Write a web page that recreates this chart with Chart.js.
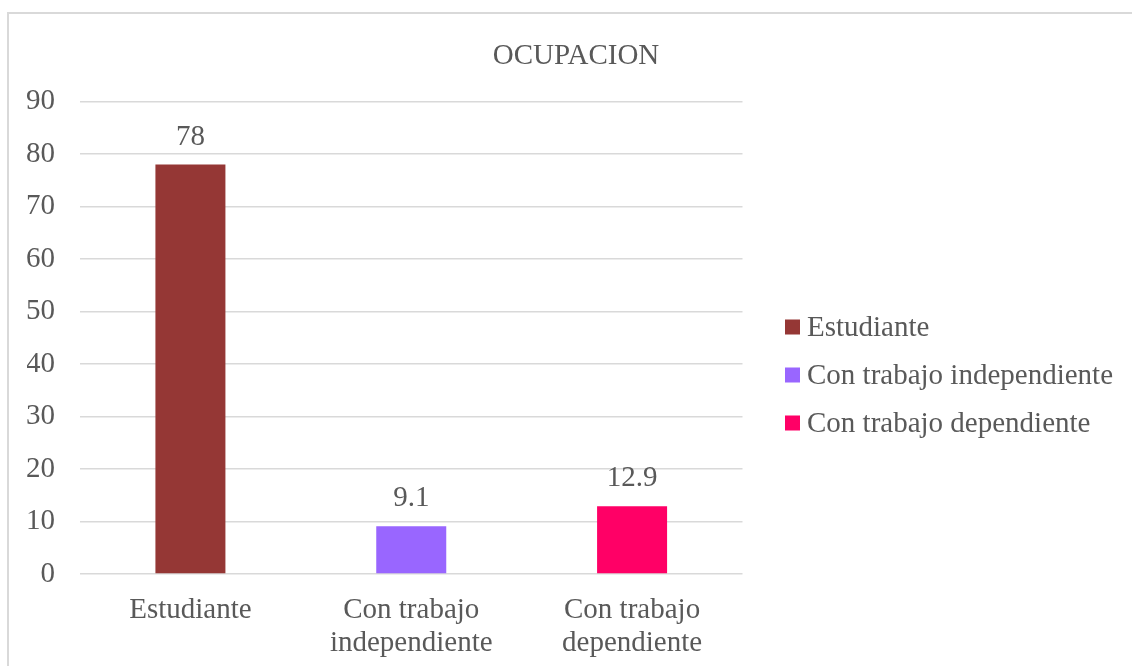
<!DOCTYPE html>
<html>
<head>
<meta charset="utf-8">
<script src="https://cdn.jsdelivr.net/npm/chart.js@4.4.0/dist/chart.umd.min.js"></script>
<style>
  html, body { margin: 0; padding: 0; background: #fff; overflow: hidden; width: 1132px; height: 666px; }
  #frame { position: absolute; left: 7px; top: 12px; width: 1300px; height: 800px; border: 2px solid #d9d9d9; box-sizing: border-box; }
  #wrap { position: absolute; left: 10px; top: 14px; width: 1132px; height: 680px; }
</style>
</head>
<body>
<div id="frame"></div>
<div id="wrap"><canvas id="c" width="1132" height="680"></canvas></div>
<script>
const titleText = "OCUPACION";
const categories = [["Estudiante"], ["Con trabajo", "independiente"], ["Con trabajo", "dependiente"]];
const legendLabels = ["Estudiante", "Con trabajo independiente", "Con trabajo dependiente"];
const values = [78, 9.1, 12.9];
const valueLabels = ["78", "9.1", "12.9"];
const barColors = ["#953735", "#9966ff", "#ff0066"];
const yTicks = [0, 10, 20, 30, 40, 50, 60, 70, 80, 90];

const FONT = "'Liberation Serif', 'Times New Roman', serif";
const TXT = "#595959";
const FS = 29;

const fixTitle = {
  id: 'fixTitle',
  afterLayout(chart) {
    if (chart.titleBlock) {
      chart.titleBlock.left = 0;
      chart.titleBlock.right = chart.width;
      chart.titleBlock.width = chart.width;
    }
  }
};

const valueLabelPlugin = {
  id: 'valueLabels',
  afterDatasetsDraw(chart) {
    const ctx = chart.ctx;
    const meta = chart.getDatasetMeta(0);
    ctx.save();
    ctx.font = FS + "px " + FONT;
    ctx.fillStyle = TXT;
    ctx.textAlign = 'center';
    ctx.textBaseline = 'middle';
    meta.data.forEach((el, i) => {
      ctx.fillText(valueLabels[i], el.x, el.y - 27.5);
    });
    ctx.restore();
  }
};

const legendPlugin = {
  id: 'customLegend',
  afterDraw(chart) {
    const ctx = chart.ctx;
    const area = chart.chartArea;
    const x0 = area.right + 42.5;
    const midY = (area.top + area.bottom) / 2 + 37.25;
    const gap = 48;
    ctx.save();
    ctx.font = FS + "px " + FONT;
    ctx.textBaseline = 'middle';
    ctx.textAlign = 'left';
    legendLabels.forEach((lab, i) => {
      const cy = midY + (i - 1) * gap;
      ctx.fillStyle = barColors[i];
      ctx.fillRect(x0, cy - 7.5, 15, 15);
      ctx.fillStyle = TXT;
      ctx.fillText(lab, x0 + 22, cy + 1);
    });
    ctx.restore();
  }
};

new Chart(document.getElementById('c'), {
  type: 'bar',
  data: {
    labels: categories,
    datasets: [{
      label: titleText,
      data: values,
      backgroundColor: barColors,
      borderWidth: 0,
      categoryPercentage: 1,
      barPercentage: 0.317
    }]
  },
  options: {
    responsive: false,
    animation: false,
    devicePixelRatio: 1,
    layout: { padding: { left: 17, right: 399.5, top: 0, bottom: 34.5 } },
    plugins: {
      legend: { display: false },
      tooltip: { enabled: false },
      title: {
        display: true,
        text: titleText,
        color: TXT,
        font: { family: FONT, size: FS, weight: 'normal', lineHeight: 1.2 },
        padding: { top: 24.6, bottom: 28.1 }
      }
    },
    scales: {
      x: {
        grid: { display: false, drawTicks: false },
        border: { display: false },
        ticks: {
          color: TXT,
          font: { family: FONT, size: FS, lineHeight: 33 / FS },
          padding: 19.5,
          maxRotation: 0,
          autoSkip: false
        },
        afterFit(axis) { axis.paddingLeft = 0; axis.paddingRight = 0; axis.height = 85.5; }
      },
      y: {
        min: 0,
        max: 90,
        afterBuildTicks(axis) { axis.ticks = yTicks.map(v => ({ value: v })); },
        grid: { color: '#d9d9d9', lineWidth: 1.5, drawTicks: false },
        border: { display: false },
        ticks: {
          color: TXT,
          font: { family: FONT, size: FS },
          padding: 25
        },
        afterFit(axis) { axis.paddingTop = 0; axis.paddingBottom = 0; axis.width = 53; }
      }
    }
  },
  plugins: [fixTitle, valueLabelPlugin, legendPlugin]
});
</script>
</body>
</html>
